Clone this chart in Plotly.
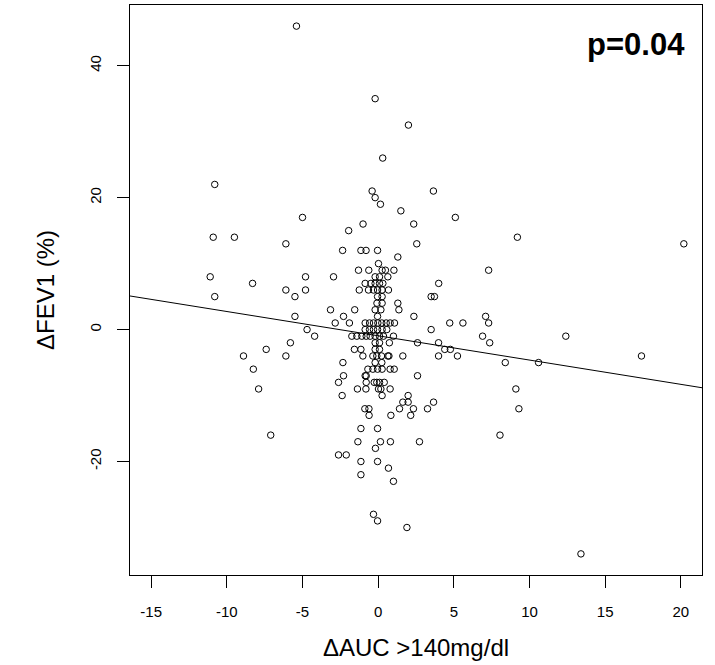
import plotly.graph_objects as go

# Data, grouped by ΔFEV1 row (integer %)
rows = {
    46: [-5.4],
    35: [-0.2],
    31: [2.0],
    26: [0.3],
    22: [-10.8],
    21: [-0.4, 3.65],
    20: [-0.2],
    19: [0.15],
    18: [1.5],
    17: [-5.0, 5.1],
    16: [-1.0, 2.35],
    15: [-1.95],
    14: [-10.9, -9.5, 9.2],
    13: [-6.1, 2.55, 20.2],
    12: [-2.35, -1.14, -0.8, -0.04],
    11: [1.3],
    10: [0.02],
    9: [-1.3, -0.62, 0.26, 0.48, 1.04, 7.3],
    8: [-11.1, -4.8, -2.95, -0.2, 0.09, 0.64],
    7: [-8.3, -0.86, -0.48, -0.2, 0.09, 0.31, 4.0],
    6: [-6.1, -4.8, -1.25, -0.64, -0.31, -0.04, 0.26, 0.68],
    5: [-10.8, -5.5, -0.04, 0.26, 3.5, 3.72],
    4: [-0.08, 0.26, 1.3],
    3: [-3.15, -1.55, -0.2, 0.18, 1.37],
    2: [-5.5, -2.29, -0.04, 2.36, 7.1],
    1: [-2.84, -1.9, -0.86, -0.57, -0.31, -0.02, 0.24, 0.53, 0.79, 1.08, 4.73, 5.6, 7.3],
    0: [-4.7, -0.86, -0.57, -0.31, -0.04, 0.26, 0.57, 3.5],
    -1: [-4.2, -1.74, -1.41, -1.08, -0.79, -0.53, -0.2, 0.09, 0.35, 1.01, 6.9, 12.4],
    -2: [-5.8, -0.2, 0.09, 0.74, 2.6, 3.99, 7.37],
    -3: [-7.4, -1.57, -1.14, -0.2, 0.09, 4.4, 4.77],
    -4: [-8.9, -6.1, -1.01, -0.35, -0.09, 0.22, 0.64, 0.71, 1.63, 3.99, 5.24, 17.4],
    -5: [-2.33, -0.2, 0.24, 8.4, 10.6],
    -6: [-8.25, -0.68, -0.35, -0.04, 0.26, 0.79, 1.06],
    -7: [-2.29, -0.86, -0.79, 2.6],
    -8: [-2.62, -0.79, -0.26, -0.09, 0.09, 0.4],
    -9: [-7.9, -1.37, -0.81, 0.02, 0.18, 0.79, 9.1],
    -10: [-2.38, 0.26, 1.98],
    -11: [1.63, 1.98, 3.66],
    -12: [-0.88, -0.61, 1.41, 2.33, 3.26, 9.3],
    -13: [-0.6, 0.84, 2.15],
    -15: [-1.14, -0.04],
    -16: [-7.1, 8.05],
    -17: [-1.34, 0.15, 0.81, 2.73],
    -18: [-0.18],
    -19: [-2.62, -2.11],
    -20: [-1.14, -0.04],
    -21: [0.68],
    -22: [-1.14],
    -23: [1.01],
    -28: [-0.31],
    -29: [-0.04],
    -30: [1.9],
    -34: [13.4],
}

delta_auc = [x for yv, xs in rows.items() for x in xs]
delta_fev1 = [yv for yv, xs in rows.items() for x in xs]

# Regression line coefficients
fit_intercept = -0.94
fit_slope = -0.368

x_range = [-16.4, 21.4]
y_range = [-37.2, 49.2]
x_ticks = [-15, -10, -5, 0, 5, 10, 15, 20]
y_ticks = [-20, 0, 20, 40]
p_label = "p=0.04"

fig = go.Figure()
fig.add_trace(go.Scatter(
    x=x_range,
    y=[fit_intercept + fit_slope * v for v in x_range],
    mode="lines",
    line=dict(color="black", width=1),
    hoverinfo="skip",
))
fig.add_trace(go.Scatter(
    x=delta_auc, y=delta_fev1, mode="markers",
    marker=dict(symbol="circle-open", size=6.5, color="black", line=dict(width=1, color="black")),
))

font_family = "Liberation Sans, Arial, sans-serif"
fig.update_layout(
    width=715, height=665,
    margin=dict(l=130, r=13, t=5, b=90),
    paper_bgcolor="white", plot_bgcolor="white",
    showlegend=False,
    font=dict(family=font_family, color="black"),
    xaxis=dict(
        range=x_range, tickvals=x_ticks, ticktext=[str(t) for t in x_ticks],
        ticks="outside", ticklen=12, tickcolor="black", tickwidth=1,
        showline=True, linecolor="black", linewidth=1, mirror=True,
        showgrid=False, zeroline=False,
        tickfont=dict(size=15), ticklabelstandoff=11,
        title=dict(text="ΔAUC >140mg/dl", font=dict(size=24), standoff=20),
    ),
    yaxis=dict(
        range=y_range, tickvals=y_ticks, ticktext=[str(t) for t in y_ticks],
        ticks="outside", ticklen=12, tickcolor="black", tickwidth=1,
        showline=True, linecolor="black", linewidth=1, mirror=True,
        showgrid=False, zeroline=False,
        tickangle=-90, tickfont=dict(size=15), ticklabelstandoff=10,
    ),
    annotations=[
        dict(text="ΔFEV1 (%)", x=-0.1486, y=0.5, xref="paper", yref="paper",
             textangle=-90, showarrow=False, xanchor="center", yanchor="middle",
             font=dict(size=24)),
        dict(text="<b>" + p_label + "</b>", x=0.974, y=0.93, xref="paper", yref="paper",
             showarrow=False, xanchor="right", yanchor="middle",
             font=dict(size=31)),
    ],
)

fig.write_html("out.html")
